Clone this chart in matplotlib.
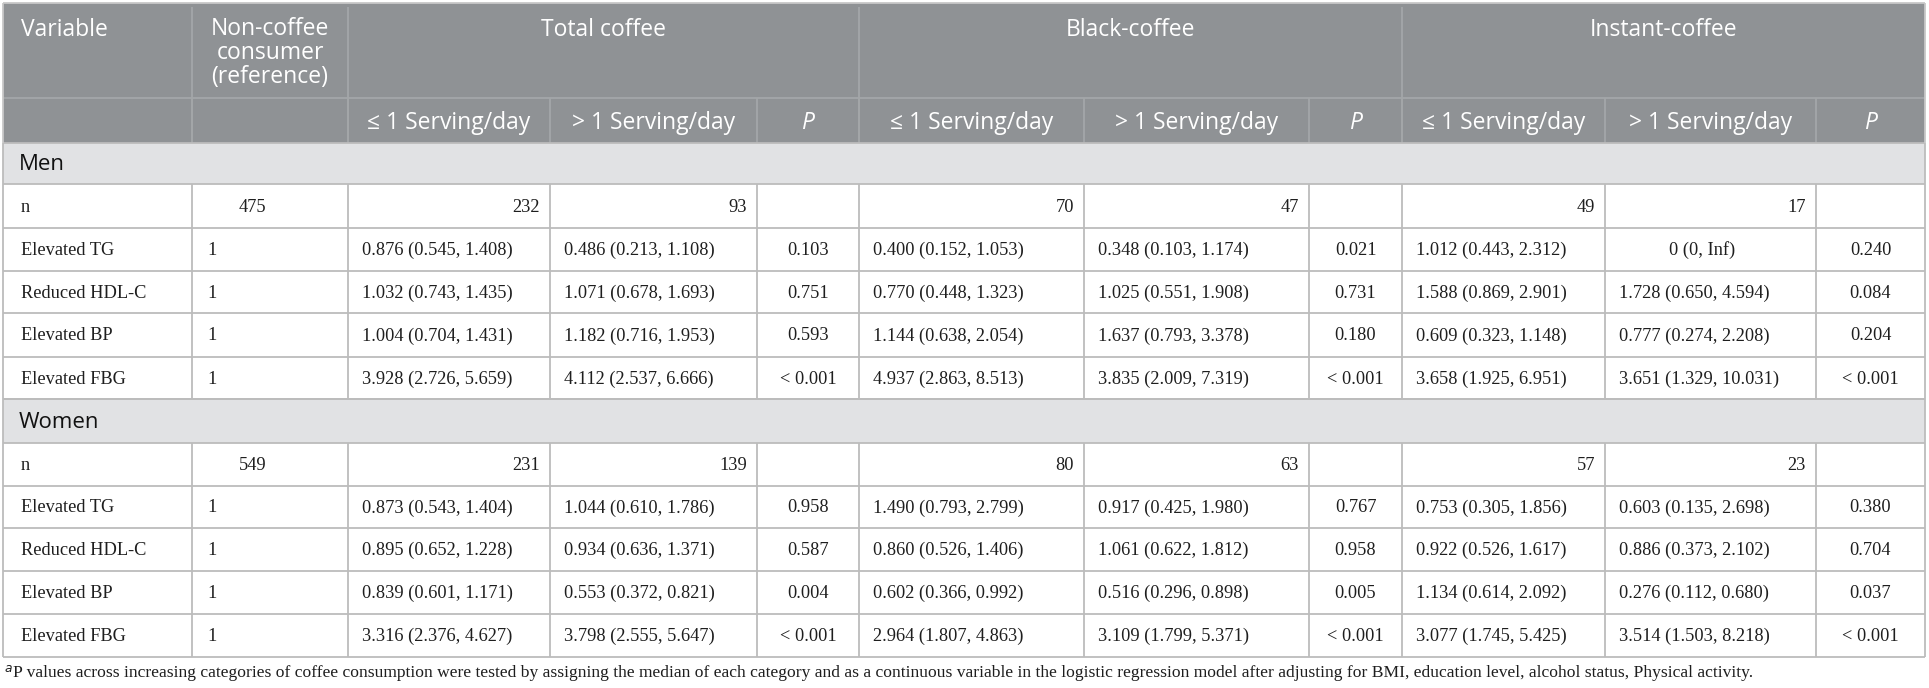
import matplotlib
matplotlib.use("Agg")
import matplotlib.pyplot as plt
from matplotlib.patches import Rectangle

W, H = 1929, 688
DPI = 100

# ---------------- data ----------------
groups = ["Total coffee", "Black-coffee", "Instant-coffee"]
sub_headers = ["\u2264 1 Serving/day", "> 1 Serving/day", "P"]
sections = ["Men", "Women"]
variables = ["Elevated TG", "Reduced HDL-C", "Elevated BP", "Elevated FBG"]

men_n = ["475", "232", "93", "", "70", "47", "", "49", "17", ""]
men_tg = ["1", "0.876 (0.545, 1.408)", "0.486 (0.213, 1.108)", "0.103",
          "0.400 (0.152, 1.053)", "0.348 (0.103, 1.174)", "0.021",
          "1.012 (0.443, 2.312)", "0 (0, Inf)", "0.240"]
men_hdl = ["1", "1.032 (0.743, 1.435)", "1.071 (0.678, 1.693)", "0.751",
           "0.770 (0.448, 1.323)", "1.025 (0.551, 1.908)", "0.731",
           "1.588 (0.869, 2.901)", "1.728 (0.650, 4.594)", "0.084"]
men_bp = ["1", "1.004 (0.704, 1.431)", "1.182 (0.716, 1.953)", "0.593",
          "1.144 (0.638, 2.054)", "1.637 (0.793, 3.378)", "0.180",
          "0.609 (0.323, 1.148)", "0.777 (0.274, 2.208)", "0.204"]
men_fbg = ["1", "3.928 (2.726, 5.659)", "4.112 (2.537, 6.666)", "< 0.001",
           "4.937 (2.863, 8.513)", "3.835 (2.009, 7.319)", "< 0.001",
           "3.658 (1.925, 6.951)", "3.651 (1.329, 10.031)", "< 0.001"]

women_n = ["549", "231", "139", "", "80", "63", "", "57", "23", ""]
women_tg = ["1", "0.873 (0.543, 1.404)", "1.044 (0.610, 1.786)", "0.958",
            "1.490 (0.793, 2.799)", "0.917 (0.425, 1.980)", "0.767",
            "0.753 (0.305, 1.856)", "0.603 (0.135, 2.698)", "0.380"]
women_hdl = ["1", "0.895 (0.652, 1.228)", "0.934 (0.636, 1.371)", "0.587",
             "0.860 (0.526, 1.406)", "1.061 (0.622, 1.812)", "0.958",
             "0.922 (0.526, 1.617)", "0.886 (0.373, 2.102)", "0.704"]
women_bp = ["1", "0.839 (0.601, 1.171)", "0.553 (0.372, 0.821)", "0.004",
            "0.602 (0.366, 0.992)", "0.516 (0.296, 0.898)", "0.005",
            "1.134 (0.614, 2.092)", "0.276 (0.112, 0.680)", "0.037"]
women_fbg = ["1", "3.316 (2.376, 4.627)", "3.798 (2.555, 5.647)", "< 0.001",
             "2.964 (1.807, 4.863)", "3.109 (1.799, 5.371)", "< 0.001",
             "3.077 (1.745, 5.425)", "3.514 (1.503, 8.218)", "< 0.001"]

footnote = ("P values across increasing categories of coffee consumption were tested by assigning the median "
            "of each category and as a continuous variable in the logistic regression model after adjusting for "
            "BMI, education level, alcohol status, Physical activity.")

# ---------------- layout ----------------
col_x = [3, 192, 348, 550, 757, 859, 1084, 1309, 1402, 1605, 1816, 1925]
y_top = 3
y_h1 = 98
y_h2 = 143
men_rows = [y_h2, 184, 228, 271, 313, 357, 399]
women_rows = [399, 443, 486, 528, 571, 614, 657]

HEAD_BG = "#8f9295"
HEAD_LINE = "#a4a7a9"
SEC_BG = "#e1e2e4"
GRID = "#bcbcbc"
TXT = "#1e1e1e"

SANS = "Open Sans"
SERIF = "Liberation Serif"
fs_head = 16.5
fs_sec = 16.0
fs_data = 13.2
fs_foot = 12.6

fig = plt.figure(figsize=(W / DPI, H / DPI), dpi=DPI)
ax = fig.add_axes([0, 0, 1, 1])
ax.set_xlim(0, W)
ax.set_ylim(H, 0)
ax.axis("off")

def rect(x0, y0, x1, y1, color):
    ax.add_patch(Rectangle((x0, y0), x1 - x0, y1 - y0, facecolor=color, edgecolor="none", zorder=1))

def hline(x0, x1, y, color=GRID, lw=1.3):
    ax.plot([x0, x1], [y, y], color=color, lw=lw, zorder=3, solid_capstyle="butt")

def vline(x, y0, y1, color=GRID, lw=1.3):
    ax.plot([x, x], [y0, y1], color=color, lw=lw, zorder=3, solid_capstyle="butt")

# header
rect(col_x[0], y_top, col_x[-1], y_h2, HEAD_BG)
for x in [col_x[1], col_x[2], col_x[5], col_x[8]]:
    vline(x, y_top + 4, y_h2, HEAD_LINE)
for x in col_x[1:-1]:
    vline(x, y_h1, y_h2, HEAD_LINE)
hline(col_x[0], col_x[-1], y_h1, HEAD_LINE)

ax.text(21, 36, "Variable", ha="left", va="baseline", fontsize=fs_head, family=SANS, color="white", zorder=4)
ax.text((col_x[1] + col_x[2]) / 2, 53, "Non-coffee\nconsumer\n(reference)", ha="center", va="center",
        fontsize=fs_head, family=SANS, color="white", linespacing=0.98, zorder=4)
for gi, g in enumerate(groups):
    xa = col_x[2 + 3 * gi]
    xb = col_x[5 + 3 * gi]
    ax.text((xa + xb) / 2, 36, g, ha="center", va="baseline", fontsize=fs_head, family=SANS,
            color="white", zorder=4)
    for si, s in enumerate(sub_headers):
        c0 = col_x[2 + 3 * gi + si]
        c1 = col_x[3 + 3 * gi + si]
        ax.text((c0 + c1) / 2, 129, s, ha="center", va="baseline", fontsize=fs_head, family=SANS,
                color="white", style="italic" if s == "P" else "normal", zorder=4)

def draw_section(label, rows_y, nrow, datarows):
    # section label row
    rect(col_x[0], rows_y[0], col_x[-1], rows_y[1], SEC_BG)
    ax.text(19, (rows_y[0] + rows_y[1]) / 2 + 1, label, ha="left", va="center", fontsize=fs_sec,
            family=SANS, color="#111111", zorder=4)
    hline(col_x[0], col_x[-1], rows_y[0])
    hline(col_x[0], col_x[-1], rows_y[1])
    vline(col_x[0], rows_y[0], rows_y[1])
    vline(col_x[-1], rows_y[0], rows_y[1])
    all_rows = [("n", nrow)] + list(zip(variables, datarows))
    for ri, (name, vals) in enumerate(all_rows):
        ya = rows_y[1 + ri]
        yb = rows_y[2 + ri]
        yc = (ya + yb) / 2 + 1
        hline(col_x[0], col_x[-1], yb)
        for x in col_x:
            vline(x, ya, yb)
        ax.text(21, yc, name, ha="left", va="center", fontsize=fs_data, family=SERIF, color=TXT, zorder=4)
        for ci, v in enumerate(vals):
            if not v:
                continue
            c0 = col_x[1 + ci]
            c1 = col_x[2 + ci]
            if ci == 0:
                if name == "n":
                    ax.text(239, yc, v, ha="left", va="center", fontsize=fs_data, family=SERIF, color=TXT, zorder=4)
                else:
                    ax.text(c0 + 15, yc, v, ha="left", va="center", fontsize=fs_data, family=SERIF, color=TXT, zorder=4)
            elif name == "n":
                ax.text(c1 - 10, yc, v, ha="right", va="center", fontsize=fs_data, family=SERIF, color=TXT, zorder=4)
            elif ci % 3 == 0:
                ax.text((c0 + c1) / 2, yc, v, ha="center", va="center", fontsize=fs_data, family=SERIF, color=TXT, zorder=4)
            elif v.startswith("0 (0"):
                ax.text((c0 + c1) / 2 - 8, yc, v, ha="center", va="center", fontsize=fs_data, family=SERIF, color=TXT, zorder=4)
            else:
                ax.text(c0 + 14, yc, v, ha="left", va="center", fontsize=fs_data, family=SERIF, color=TXT, zorder=4)

draw_section(sections[0], men_rows, men_n, [men_tg, men_hdl, men_bp, men_fbg])
draw_section(sections[1], women_rows, women_n, [women_tg, women_hdl, women_bp, women_fbg])

# outer border of header
hline(col_x[0], col_x[-1], y_top, "#c8c8c8")
vline(col_x[0], y_top, y_h2, "#c8c8c8")
vline(col_x[-1], y_top, y_h2, "#c8c8c8")

# footnote
ax.text(4, 673, r"$^{a}$", ha="left", va="center", fontsize=fs_foot, family=SERIF, style="italic", color=TXT)
ax.text(13, 673, footnote, ha="left", va="center", fontsize=fs_foot, family=SERIF, color=TXT)

fig.savefig("out.png", dpi=DPI, facecolor="white")
